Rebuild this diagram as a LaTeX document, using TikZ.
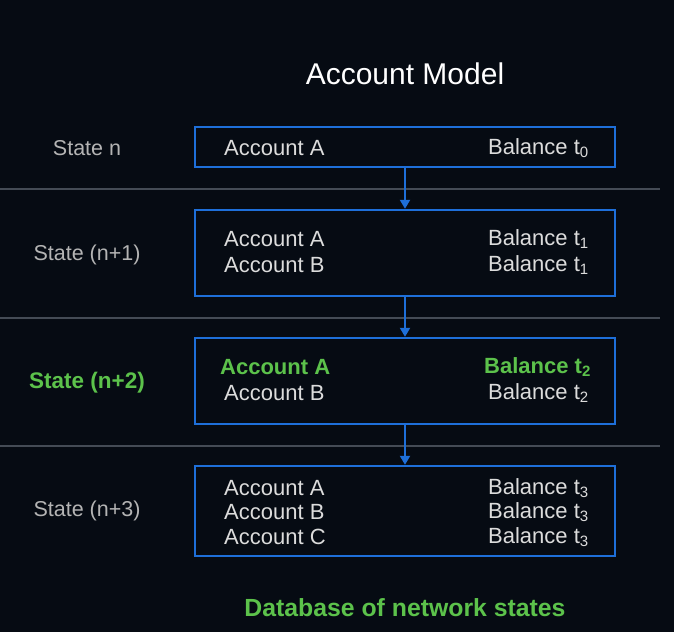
\documentclass[tikz,border=0pt]{standalone}
\usepackage{fontspec}
\setmainfont{Liberation Sans}
\usetikzlibrary{arrows.meta}
\definecolor{bg}{HTML}{060B13}
\definecolor{boxblue}{HTML}{1E6FD9}
\definecolor{sepgray}{HTML}{444B55}
\definecolor{txt}{HTML}{DCDCDC}
\definecolor{lbl}{HTML}{B4B4B4}
\definecolor{grn}{HTML}{5CC24B}
\newcommand{\tsub}[1]{\raisebox{-2.5pt}{\fontsize{15}{15}\selectfont #1}}
\tikzset{
  box/.style={draw=boxblue, line width=2.4pt, minimum width=420pt, inner sep=0pt},
  arr/.style={draw=boxblue, line width=2pt, -{Triangle[length=9pt,width=10pt]}},
  sep/.style={draw=sepgray, line width=2pt},
  acc/.style={anchor=west, inner sep=0pt, text=txt, font=\fontsize{22}{22}\selectfont},
  accg/.style={anchor=west, inner sep=0pt, text=grn, font=\bfseries\fontsize{22}{22}\selectfont},
  state/.style={inner sep=0pt, text=lbl, font=\fontsize{21.5}{21.5}\selectfont},
}
\begin{document}
\begin{tikzpicture}[x=1pt,y=-1pt]
\fill[bg] (0,0) rectangle (674,632);
\useasboundingbox (0,0) rectangle (674,632);

\node[inner sep=0pt, text=white, font=\fontsize{30}{30}\selectfont] (title) at (405,74) {Account Model};

\draw[sep] (0,189) -- (660,189);
\draw[sep] (0,318) -- (660,318);
\draw[sep] (0,446) -- (660,446);

\node[box, minimum height=40pt] (b1) at (405,147) {};
\node[box, minimum height=86pt] (b2) at (405,253) {};
\node[box, minimum height=86pt] (b3) at (405,381) {};
\node[box, minimum height=90pt] (b4) at (405,511) {};

\draw[arr] (b1.south) -- (b2.north);
\draw[arr] (b2.south) -- (b3.north);
\draw[arr] (b3.south) -- (b4.north);

\node[state] (s1) at (87,148) {State n};
\node[state] (s2) at (87,255) {State (n+1)};
\node[state, text=grn, font=\bfseries\fontsize{22.5}{22.5}\selectfont] (s3) at (87,383) {State (n+2)};
\node[state] (s4) at (87,511) {State (n+3)};

\node[acc] (a1) at (224,148) {Account A};
\node[acc] (c1) at (488,148) {Balance t\tsub{0}};

\node[acc] (a2a) at (224,239) {Account A};
\node[acc] (c2a) at (488,239) {Balance t\tsub{1}};
\node[acc] (a2b) at (224,265) {Account B};
\node[acc] (c2b) at (488,265) {Balance t\tsub{1}};

\node[accg] (a3a) at (220,367) {Account A};
\node[accg] (c3a) at (484,367) {Balance t\tsub{2}};
\node[acc] (a3b) at (224,393) {Account B};
\node[acc] (c3b) at (488,393) {Balance t\tsub{2}};

\node[acc] (a4a) at (224,488) {Account A};
\node[acc] (c4a) at (488,488) {Balance t\tsub{3}};
\node[acc] (a4b) at (224,512) {Account B};
\node[acc] (c4b) at (488,512) {Balance t\tsub{3}};
\node[acc] (a4c) at (224,537) {Account C};
\node[acc] (c4c) at (488,537) {Balance t\tsub{3}};

\node[inner sep=0pt, text=grn, font=\bfseries\fontsize{24.8}{24.8}\selectfont] (db) at (405,608) {Database of network states};
\end{tikzpicture}
\end{document}
